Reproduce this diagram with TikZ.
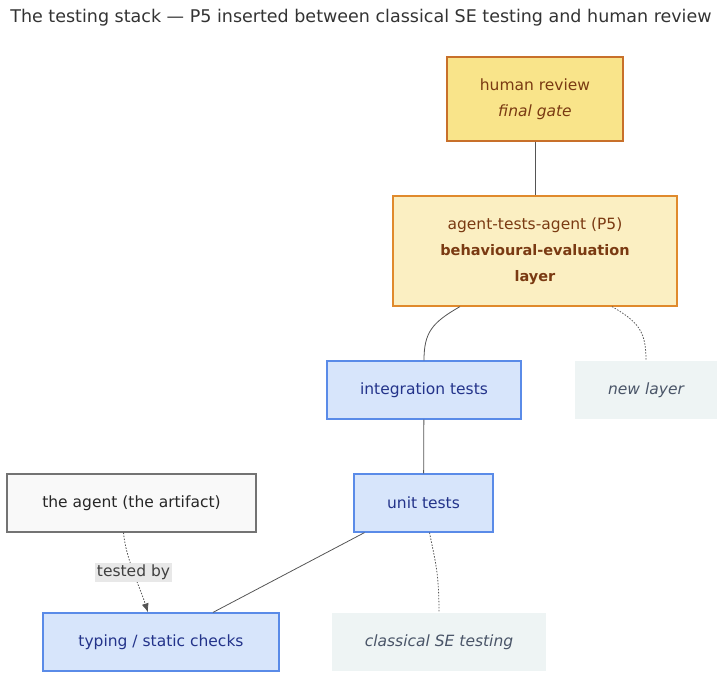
\documentclass[tikz,border=0pt]{standalone}
\usepackage{fontspec}
\setmainfont{DejaVu Sans}
\usetikzlibrary{arrows.meta}
\definecolor{gatefill}{HTML}{F9E48A}
\definecolor{gatedraw}{HTML}{C8702A}
\definecolor{pfivefill}{HTML}{FBEFC2}
\definecolor{pfivedraw}{HTML}{E08A2C}
\definecolor{browntext}{HTML}{7A3A12}
\definecolor{testfill}{HTML}{D7E5FB}
\definecolor{testdraw}{HTML}{5A8BE8}
\definecolor{navytext}{HTML}{23338A}
\definecolor{notefill}{HTML}{EEF4F4}
\definecolor{notetext}{HTML}{4A5568}
\definecolor{linkgray}{HTML}{555555}
\newcommand{\boldline}[1]{{\fontsize{14.5}{26}\selectfont\bfseries #1}}
\begin{document}
\begin{tikzpicture}[
    x=1pt, y=-1pt,
    every node/.style={font=\fontsize{15.5}{26}\selectfont},
    box/.style={rectangle, draw, line width=1.2pt, align=center, inner sep=0pt},
    gate/.style={box, fill=gatefill, draw=gatedraw, text=browntext},
    pfive/.style={box, fill=pfivefill, draw=pfivedraw, text=browntext},
    testbox/.style={box, fill=testfill, draw=testdraw, text=navytext, minimum height=58pt},
    note/.style={rectangle, fill=notefill, text=notetext, minimum height=58pt, font=\fontsize{15.5}{26}\selectfont\itshape},
    artifact/.style={box, fill=gray!5, draw=gray!110, text=black!85, minimum height=58pt},
    link/.style={draw=linkgray, line width=0.8pt},
    dots/.style={draw=linkgray, line width=0.8pt, dash pattern=on 1.5pt off 1.5pt},
    arrow/.style={dots, -{Latex[length=9pt,width=7pt]}}
]
\useasboundingbox (0,0) rectangle (723,679);

\node[font=\fontsize{17.5}{20}\selectfont, text=black!80] (title) at (361,18)
    {The testing stack — P5 inserted between classical SE testing and human review};

\node[gate, minimum width=176pt, minimum height=84pt] (human) at (535,99)
    {human review\\ \textit{final gate}};

\node[pfive, minimum width=284pt, minimum height=110pt] (p5) at (535,251)
    {agent-tests-agent (P5)\\ \boldline{behavioural-evaluation}\\ \boldline{layer}};

\node[testbox, minimum width=194pt] (integ) at (424,390) {integration tests};
\node[note, minimum width=142pt] (newlayer) at (646,390) {new layer};

\node[artifact, minimum width=249pt] (agent) at (131.5,503) {the agent (the artifact)};
\node[testbox, minimum width=139pt] (unit) at (423.5,503) {unit tests};

\node[testbox, minimum width=236pt] (typing) at (161,642) {typing / static checks};
\node[note, minimum width=214pt] (classical) at (439,642) {classical SE testing};

\draw[link] (human) -- (p5);
\draw[link] ([xshift=-75pt]p5.south) .. controls +(-28,16) and +(0,-28) .. (integ.north);
\draw[dots] ([xshift=77pt]p5.south) .. controls +(28,16) and +(0,-28) .. (newlayer.north);
\draw[link] (integ) -- (unit);
\draw[link] ([xshift=-59pt]unit.south) -- ([xshift=52pt]typing.north);
\draw[dots] ([xshift=6pt]unit.south) .. controls +(6,30) and +(0,-40) .. (classical.north);
\draw[arrow] ([xshift=-8pt]agent.south) .. controls +(2,25) and +(-8,-25) ..
    node[fill=black!9, inner sep=2pt, text=black!75, font=\fontsize{15.5}{17}\selectfont] (testedby) {tested by}
    ([xshift=-13pt]typing.north);

\end{tikzpicture}
\end{document}
